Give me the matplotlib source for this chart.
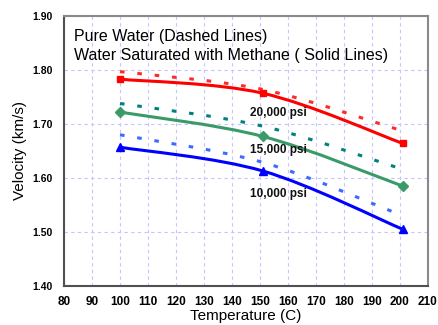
import numpy as np
import matplotlib
matplotlib.use("Agg")
import matplotlib.pyplot as plt
from matplotlib.path import Path
from matplotlib.patches import PathPatch

# Temperatures (C) at which velocities were measured
temps = [100, 151, 201]

# Water saturated with methane (solid lines)
methane_20k = [1.783, 1.757, 1.664]
methane_15k = [1.722, 1.677, 1.585]
methane_10k = [1.657, 1.613, 1.505]

# Pure water (dashed lines)
pure_20k = [1.797, 1.764, 1.687]
pure_15k = [1.738, 1.696, 1.616]
pure_10k = [1.680, 1.629, 1.530]

pressure_labels = ["20,000 psi", "15,000 psi", "10,000 psi"]
x_ticks = list(range(80, 211, 10))
y_ticks = [1.40, 1.50, 1.60, 1.70, 1.80, 1.90]

plt.rcParams["font.family"] = ["Liberation Sans", "DejaVu Sans"]


def smooth_path(x, y):
    """Catmull-Rom style cubic Bezier path through the points."""
    pts = np.column_stack([x, y]).astype(float)
    n = len(pts)
    verts = [pts[0]]
    codes = [Path.MOVETO]
    for i in range(n - 1):
        p0 = pts[max(i - 1, 0)]
        p1 = pts[i]
        p2 = pts[i + 1]
        p3 = pts[min(i + 2, n - 1)]
        c1 = p1 + (p2 - p0) / 6.0
        c2 = p2 - (p3 - p1) / 6.0
        verts += [c1, c2, p2]
        codes += [Path.CURVE4] * 3
    return Path(verts, codes)


fig = plt.figure(figsize=(4.38, 3.25), dpi=100)
ax = fig.add_axes([64 / 438, 1 - 286 / 325, 364 / 438, 270 / 325])

ax.set_xlim(80, 210)
ax.set_ylim(1.40, 1.90)
ax.set_xticks(x_ticks)
ax.set_yticks(y_ticks)
ax.set_xticklabels([str(t) for t in x_ticks], fontsize=8.5, fontweight="bold")
ax.set_yticklabels([f"{t:.2f}" for t in y_ticks], fontsize=7.5, fontweight="bold")
ax.tick_params(axis="x", length=0, pad=7)
ax.tick_params(axis="y", length=0, pad=8)
ax.grid(True, color="#C4C4FF", linestyle=(0, (3, 3)), linewidth=0.8)
ax.set_axisbelow(True)

for side in ("left", "bottom"):
    ax.spines[side].set_color("#505050")
    ax.spines[side].set_linewidth(1.5)
for side in ("top", "right"):
    ax.spines[side].set_color("#8A8A8A")
    ax.spines[side].set_linewidth(1.5)

series = [
    (pure_20k, "#FF2A2A", "dash", None),
    (pure_15k, "#008080", "dash", None),
    (pure_10k, "#3D6BFF", "dash", None),
    (methane_20k, "#FF0000", "solid", "s"),
    (methane_15k, "#3A9A68", "solid", "D"),
    (methane_10k, "#0000FF", "solid", "^"),
]

for values, color, style, marker in series:
    patch = PathPatch(smooth_path(temps, values), fill=False,
                      edgecolor=color, linewidth=2.2, capstyle="butt",
                      zorder=3)
    if style == "dash":
        patch.set_linestyle((0, (1.5, 4.2)))
    ax.add_patch(patch)
    if marker is not None:
        ax.plot(temps, values, linestyle="none", marker=marker,
                markersize=5 if marker != "^" else 5.5,
                color=color, zorder=4)

label_y = [1.715, 1.646, 1.564]
for text, yv in zip(pressure_labels, label_y):
    ax.text(146.4, yv, text, fontsize=8.5, fontweight="bold",
            va="baseline", ha="left", color="#111111", zorder=5)

ax.text(0.027, 0.908, "Pure Water (Dashed Lines)", transform=ax.transAxes,
        fontsize=11.5, va="baseline", ha="left", color="#000000")
ax.text(0.027, 0.837, "Water Saturated with Methane ( Solid Lines)",
        transform=ax.transAxes, fontsize=11.5, va="baseline", ha="left",
        color="#000000")

ax.set_xlabel("Temperature (C)", fontsize=11, labelpad=1)
ax.set_ylabel("Velocity (km/s)", fontsize=11, labelpad=4)

fig.savefig("out.png", dpi=100, facecolor="white")
